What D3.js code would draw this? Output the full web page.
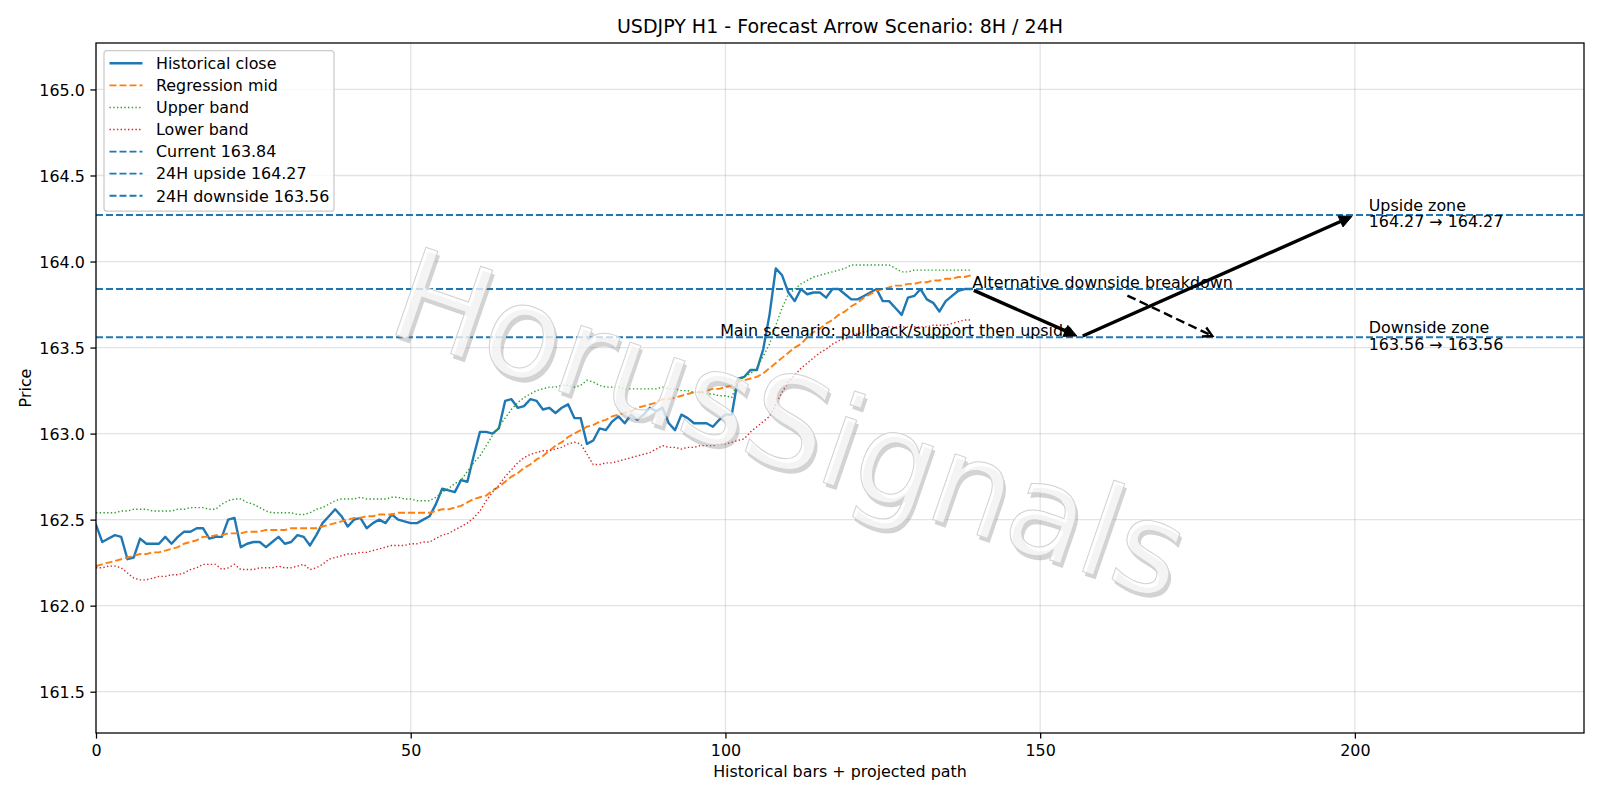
<!DOCTYPE html>
<html>
<head>
<meta charset="utf-8">
<script src="https://cdn.jsdelivr.net/npm/d3@7"></script>
<style>
  html, body { margin: 0; padding: 0; background: #ffffff; }
  svg { display: block; }
  text { font-family: "DejaVu Sans", sans-serif; }
</style>
</head>
<body>
<svg id="chart" width="1600" height="800"></svg>
<script>
// ---------------- DATA ----------------
const chartTitle = "USDJPY H1 - Forecast Arrow Scenario: 8H / 24H";
const xLabel = "Historical bars + projected path";
const yLabel = "Price";

const closeSeries = [
  162.47,162.37,162.39,162.41,162.40,162.27,162.28,162.39,162.36,162.36,
  162.36,162.40,162.36,162.40,162.43,162.43,162.45,162.45,162.39,162.40,
  162.40,162.50,162.51,162.34,162.36,162.37,162.37,162.34,162.37,162.40,
  162.36,162.37,162.41,162.40,162.35,162.41,162.48,162.52,162.56,162.52,
  162.46,162.50,162.51,162.45,162.48,162.50,162.48,162.53,162.50,162.49,
  162.48,162.48,162.50,162.52,162.59,162.68,162.67,162.66,162.73,162.72,
  162.87,163.01,163.01,163.00,163.03,163.19,163.20,163.15,163.16,163.20,
  163.19,163.14,163.15,163.12,163.15,163.17,163.09,163.09,162.94,162.96,
  163.03,163.02,163.07,163.10,163.06,163.11,163.08,163.11,163.15,163.13,
  163.15,163.06,163.02,163.11,163.09,163.06,163.06,163.06,163.04,163.08,
  163.11,163.11,163.32,163.33,163.37,163.37,163.49,163.69,163.96,163.92,
  163.82,163.77,163.84,163.81,163.82,163.82,163.79,163.84,163.84,163.81,
  163.78,163.78,163.80,163.82,163.84,163.77,163.77,163.73,163.69,163.79,
  163.80,163.84,163.78,163.76,163.71,163.77,163.80,163.83,163.84,163.84
];

const midSeries = [
  162.23,162.24,162.25,162.26,162.27,162.28,162.29,162.30,162.30,162.31,
  162.31,162.32,162.33,162.34,162.36,162.37,162.38,162.40,162.40,162.41,
  162.41,162.42,162.42,162.42,162.43,162.43,162.43,162.44,162.44,162.44,
  162.44,162.45,162.45,162.45,162.45,162.45,162.46,162.47,162.48,162.49,
  162.50,162.51,162.51,162.52,162.52,162.53,162.53,162.53,162.54,162.54,
  162.54,162.54,162.54,162.54,162.55,162.56,162.56,162.57,162.58,162.60,
  162.62,162.63,162.64,162.67,162.69,162.72,162.75,162.77,162.80,162.82,
  162.85,162.87,162.90,162.93,162.95,162.98,163.00,163.02,163.04,163.05,
  163.07,163.08,163.10,163.11,163.12,163.13,163.15,163.16,163.17,163.18,
  163.20,163.20,163.21,163.22,163.23,163.24,163.24,163.25,163.26,163.26,
  163.27,163.28,163.30,163.31,163.32,163.33,163.35,163.38,163.41,163.44,
  163.47,163.50,163.52,163.56,163.59,163.61,163.64,163.66,163.69,163.71,
  163.74,163.76,163.79,163.81,163.83,163.84,163.85,163.86,163.86,163.87,
  163.87,163.88,163.88,163.89,163.89,163.90,163.90,163.91,163.91,163.92
];

const upperSeries = [
  162.54,162.54,162.54,162.54,162.55,162.55,162.56,162.56,162.56,162.55,
  162.55,162.55,162.55,162.56,162.56,162.57,162.57,162.57,162.56,162.56,
  162.59,162.61,162.62,162.62,162.60,162.59,162.57,162.55,162.54,162.54,
  162.54,162.54,162.53,162.53,162.54,162.56,162.57,162.59,162.61,162.62,
  162.62,162.62,162.63,162.62,162.62,162.62,162.62,162.63,162.63,162.62,
  162.62,162.61,162.61,162.61,162.63,162.66,162.68,162.71,162.73,162.78,
  162.83,162.87,162.93,162.99,163.04,163.09,163.14,163.18,163.21,163.23,
  163.25,163.26,163.27,163.27,163.28,163.28,163.27,163.28,163.31,163.30,
  163.28,163.27,163.27,163.27,163.26,163.26,163.26,163.26,163.26,163.26,
  163.27,163.26,163.26,163.25,163.25,163.24,163.24,163.23,163.23,163.22,
  163.22,163.21,163.30,163.33,163.35,163.38,163.45,163.52,163.63,163.73,
  163.81,163.84,163.87,163.89,163.91,163.92,163.93,163.94,163.95,163.96,
  163.98,163.98,163.98,163.98,163.98,163.98,163.98,163.96,163.94,163.94,
  163.95,163.95,163.95,163.95,163.95,163.95,163.95,163.95,163.95,163.95
];

const lowerSeries = [
  162.22,162.22,162.23,162.23,162.22,162.19,162.16,162.15,162.15,162.16,
  162.17,162.17,162.18,162.18,162.19,162.21,162.22,162.24,162.24,162.24,
  162.21,162.22,162.24,162.21,162.21,162.21,162.22,162.22,162.22,162.23,
  162.22,162.22,162.23,162.24,162.21,162.22,162.24,162.27,162.28,162.29,
  162.30,162.30,162.31,162.31,162.32,162.33,162.34,162.35,162.35,162.35,
  162.36,162.36,162.37,162.37,162.39,162.41,162.42,162.44,162.46,162.48,
  162.51,162.55,162.61,162.66,162.70,162.75,162.79,162.83,162.86,162.88,
  162.89,162.90,162.90,162.91,162.92,162.94,162.95,162.94,162.88,162.82,
  162.82,162.83,162.83,162.84,162.85,162.86,162.87,162.88,162.89,162.91,
  162.93,162.92,162.92,162.91,162.92,162.92,162.93,162.93,162.93,162.94,
  162.94,162.95,162.96,162.97,163.01,163.04,163.07,163.10,163.17,163.24,
  163.30,163.34,163.38,163.41,163.44,163.47,163.49,163.52,163.54,163.55,
  163.57,163.58,163.59,163.60,163.61,163.61,163.62,163.62,163.62,163.62,
  163.62,163.62,163.62,163.63,163.63,163.63,163.64,163.65,163.66,163.66
];

const currentPrice = 163.84;
const upsideTarget = 164.27;
const downsideTarget = 163.56;

const legendLabels = [
  "Historical close", "Regression mid", "Upper band", "Lower band",
  "Current 163.84", "24H upside 164.27", "24H downside 163.56"
];

const xTicks = [0, 50, 100, 150, 200];
const yTicks = [161.5, 162.0, 162.5, 163.0, 163.5, 164.0, 164.5, 165.0];

// scenario path points [x, price]
const mainPath = [[139, 163.84], [156.3, 163.56], [200, 164.27]];
const altPath = [[163.4, 163.81], [177.8, 163.56]];

const annotations = [
  { text: "Alternative downside breakdown", x: 139.2, y: 163.84, anchor: "start" },
  { text: "Main scenario: pullback/support then upside", x: 155.2, y: 163.56, anchor: "end" }
];
const zoneLabels = [
  { lines: ["Upside zone", "164.27 \u2192 164.27"], x: 202.2, y: 164.27 },
  { lines: ["Downside zone", "163.56 \u2192 163.56"], x: 202.2, y: 163.56 }
];
const watermarkText = "HorusSignals";

// ---------------- LAYOUT ----------------
const svg = d3.select("#chart");
const W = 1600, H = 800;
const plot = { left: 96, right: 1584, top: 43, bottom: 733 };
const C = { blue: "#1f77b4", orange: "#ff7f0e", green: "#2ca02c", red: "#d62728" };

svg.append("rect").attr("width", W).attr("height", H).attr("fill", "#ffffff");

const x = d3.scaleLinear().domain([0, 236.4]).range([plot.left, plot.right]);
const y = d3.scaleLinear().domain([161.26, 165.27]).range([plot.bottom, plot.top]);

svg.append("defs").append("clipPath").attr("id", "clip")
  .append("rect").attr("x", plot.left).attr("y", plot.top)
  .attr("width", plot.right - plot.left).attr("height", plot.bottom - plot.top);

// grid
const grid = svg.append("g");
grid.selectAll(".gx").data(xTicks).join("line")
  .attr("x1", d => x(d)).attr("x2", d => x(d))
  .attr("y1", plot.top).attr("y2", plot.bottom)
  .attr("stroke", "#b0b0b0").attr("stroke-opacity", 0.35).attr("stroke-width", 1.27);
grid.selectAll(".gy").data(yTicks).join("line")
  .attr("x1", plot.left).attr("x2", plot.right)
  .attr("y1", d => y(d)).attr("y2", d => y(d))
  .attr("stroke", "#b0b0b0").attr("stroke-opacity", 0.35).attr("stroke-width", 1.27);

const body = svg.append("g").attr("clip-path", "url(#clip)");

const line = d3.line().x((d, i) => x(i)).y(d => y(d));

body.append("path").datum(closeSeries).attr("d", line)
  .attr("fill", "none").attr("stroke", C.blue).attr("stroke-width", 2.4)
  .attr("stroke-linejoin", "round").attr("stroke-linecap", "square");
body.append("path").datum(midSeries).attr("d", line)
  .attr("fill", "none").attr("stroke", C.orange).attr("stroke-width", 1.9)
  .attr("stroke-dasharray", "7,3");
body.append("path").datum(upperSeries).attr("d", line)
  .attr("fill", "none").attr("stroke", C.green).attr("stroke-width", 1.4)
  .attr("stroke-dasharray", "1.4,2.3");
body.append("path").datum(lowerSeries).attr("d", line)
  .attr("fill", "none").attr("stroke", C.red).attr("stroke-width", 1.4)
  .attr("stroke-dasharray", "1.4,2.3");

[currentPrice, upsideTarget, downsideTarget].forEach(v => {
  body.append("line")
    .attr("x1", plot.left).attr("x2", plot.right)
    .attr("y1", y(v)).attr("y2", y(v))
    .attr("stroke", C.blue).attr("stroke-width", 1.9)
    .attr("stroke-dasharray", "7,3");
});

function arrow(p0, p1, opts) {
  let x0 = x(p0[0]), y0 = y(p0[1]), x1 = x(p1[0]), y1 = y(p1[1]);
  const dx = x1 - x0, dy = y1 - y0, L = Math.hypot(dx, dy);
  const ux = dx / L, uy = dy / L;
  const sh = 3.2;
  x0 += ux * sh; y0 += uy * sh; x1 -= ux * sh; y1 -= uy * sh;
  const hl = opts.headLen, hw = opts.headW;
  const bx = x1 - ux * hl, by = y1 - uy * hl;
  const px = -uy, py = ux;
  if (opts.filled) {
    body.append("line").attr("x1", x0).attr("y1", y0).attr("x2", bx).attr("y2", by)
      .attr("stroke", "#000").attr("stroke-width", opts.width)
      .attr("stroke-dasharray", opts.dash || null);
    body.append("path")
      .attr("d", `M${x1},${y1}L${bx + px * hw},${by + py * hw}L${bx - px * hw},${by - py * hw}Z`)
      .attr("fill", "#000").attr("stroke", "#000").attr("stroke-width", 1);
  } else {
    body.append("line").attr("x1", x0).attr("y1", y0).attr("x2", x1).attr("y2", y1)
      .attr("stroke", "#000").attr("stroke-width", opts.width)
      .attr("stroke-dasharray", opts.dash || null);
    body.append("path")
      .attr("d", `M${bx + px * hw},${by + py * hw}L${x1},${y1}L${bx - px * hw},${by - py * hw}`)
      .attr("fill", "none").attr("stroke", "#000").attr("stroke-width", opts.width);
  }
}

const ann = svg.append("g");
annotations.forEach(a => {
  ann.append("text").attr("x", x(a.x)).attr("y", y(a.y) - 0.8)
    .attr("text-anchor", a.anchor).attr("font-size", 15.9).attr("fill", "#000")
    .text(a.text);
});
zoneLabels.forEach(z => {
  const t = ann.append("text").attr("font-size", 15.9).attr("fill", "#000");
  t.append("tspan").attr("x", x(z.x)).attr("y", y(z.y) - 4.4).text(z.lines[0]);
  t.append("tspan").attr("x", x(z.x)).attr("y", y(z.y) + 12.3).text(z.lines[1]);
});

arrow(mainPath[0], mainPath[1], { filled: true, width: 3.4, headLen: 12.5, headW: 6 });
arrow(mainPath[1], mainPath[2], { filled: true, width: 3.4, headLen: 12.5, headW: 6 });
arrow(altPath[0], altPath[1], { filled: false, width: 2.4, headLen: 9, headW: 5, dash: "9,4.5" });

// watermark
const wm = svg.append("g").attr("transform", "translate(790,424) rotate(19)");
wm.append("text").attr("x", 3.5).attr("y", 3.5)
  .attr("text-anchor", "middle").attr("dominant-baseline", "central")
  .attr("font-size", 127).attr("fill", "#7a7a7a").attr("fill-opacity", 0.33)
  .text(watermarkText);
wm.append("text").attr("x", 0).attr("y", 0)
  .attr("text-anchor", "middle").attr("dominant-baseline", "central")
  .attr("font-size", 127).attr("fill", "#ffffff").attr("fill-opacity", 0.74)
  .attr("stroke", "#d2d2d2").attr("stroke-width", 1)
  .text(watermarkText);

// spines
svg.append("rect").attr("x", plot.left).attr("y", plot.top)
  .attr("width", plot.right - plot.left).attr("height", plot.bottom - plot.top)
  .attr("fill", "none").attr("stroke", "#000").attr("stroke-width", 1.27);

const xAxis = d3.axisBottom(x).tickValues(xTicks).tickFormat(d3.format("d"))
  .tickSize(5.6).tickPadding(5.6);
const gx = svg.append("g").attr("transform", `translate(0,${plot.bottom})`).call(xAxis);
gx.select(".domain").remove();
gx.selectAll("line").attr("stroke", "#000").attr("stroke-width", 1.27);
gx.selectAll("text").attr("font-size", 15.9).attr("fill", "#000")
  .attr("font-family", "DejaVu Sans").attr("dy", "0.76em");

const yAxis = d3.axisLeft(y).tickValues(yTicks).tickFormat(d3.format(".1f"))
  .tickSize(5.6).tickPadding(5.6);
const gy = svg.append("g").attr("transform", `translate(${plot.left},0)`).call(yAxis);
gy.select(".domain").remove();
gy.selectAll("line").attr("stroke", "#000").attr("stroke-width", 1.27);
gy.selectAll("text").attr("font-size", 15.9).attr("fill", "#000")
  .attr("font-family", "DejaVu Sans").attr("dy", "0.36em");

svg.append("text").attr("x", (plot.left + plot.right) / 2).attr("y", 33.4)
  .attr("text-anchor", "middle").attr("font-size", 19).attr("fill", "#000").text(chartTitle);
svg.append("text").attr("x", (plot.left + plot.right) / 2).attr("y", 777.2)
  .attr("text-anchor", "middle").attr("font-size", 15.9).attr("fill", "#000").text(xLabel);
svg.append("text").attr("transform", `translate(31,${(plot.top + plot.bottom) / 2}) rotate(-90)`)
  .attr("text-anchor", "middle").attr("font-size", 15.9).attr("fill", "#000").text(yLabel);

// legend
const styles = [
  { color: C.blue, width: 2.4, dash: null },
  { color: C.orange, width: 1.9, dash: "7,3" },
  { color: C.green, width: 1.4, dash: "1.4,2.3" },
  { color: C.red, width: 1.4, dash: "1.4,2.3" },
  { color: C.blue, width: 1.9, dash: "7,3" },
  { color: C.blue, width: 1.9, dash: "7,3" },
  { color: C.blue, width: 1.9, dash: "7,3" }
];
const lg = svg.append("g");
lg.append("rect").attr("x", 104).attr("y", 50.7).attr("width", 230).attr("height", 160.5)
  .attr("rx", 3).attr("fill", "#ffffff").attr("fill-opacity", 0.8)
  .attr("stroke", "#cccccc").attr("stroke-width", 1.27);
legendLabels.forEach((lab, i) => {
  const cy = 63.3 + i * 22.07;
  lg.append("line").attr("x1", 109.5).attr("x2", 142.5).attr("y1", cy).attr("y2", cy)
    .attr("stroke", styles[i].color).attr("stroke-width", styles[i].width)
    .attr("stroke-dasharray", styles[i].dash);
  lg.append("text").attr("x", 156).attr("y", cy + 5.8)
    .attr("font-size", 15.9).attr("fill", "#000").text(lab);
});
</script>
</body>
</html>
